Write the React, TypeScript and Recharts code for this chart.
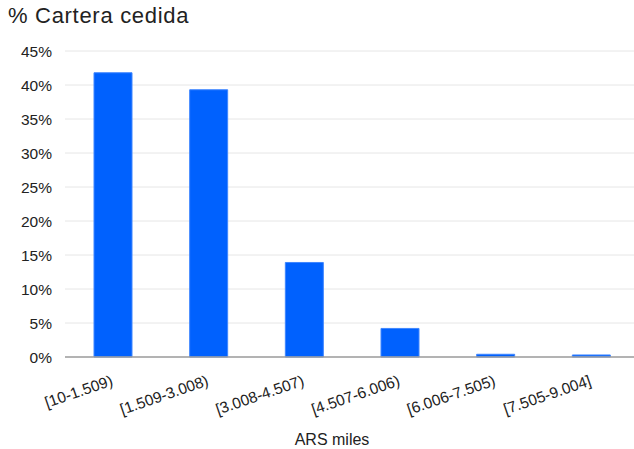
import React from 'react';
import { BarChart, Bar, XAxis, YAxis, CartesianGrid, Label } from 'recharts';

const categories = [
  '[10-1.509)',
  '[1.509-3.008)',
  '[3.008-4.507)',
  '[4.507-6.006)',
  '[6.006-7.505)',
  '[7.505-9.004]',
];
const carteraCedida = [41.8, 39.3, 13.9, 4.2, 0.4, 0.3];
const yTicks = [0, 5, 10, 15, 20, 25, 30, 35, 40, 45];

const data = categories.map((name, i) => ({ name, value: carteraCedida[i] }));

const FONT = 'Arial, "Liberation Sans", sans-serif';

const SlantedTick = (props: any) => {
  const { x, y, payload } = props;
  return (
    <g transform={`translate(${x + 1},${y + 28})`}>
      <text
        textAnchor="end"
        transform="rotate(-19)"
        fontSize={15.5}
        fontFamily={FONT}
        fill="#222"
      >
        {payload.value}
      </text>
    </g>
  );
};

export default function App() {
  return (
    <div
      style={{
        position: 'absolute',
        left: 0,
        top: 0,
        width: 634,
        height: 449,
        overflow: 'hidden',
        background: '#fff',
      }}
    >
      <div
        style={{
          position: 'absolute',
          left: 8,
          top: 2,
          fontFamily: FONT,
          fontSize: 22,
          letterSpacing: 0.7,
          color: '#222',
          lineHeight: '28px',
        }}
      >
        % Cartera cedida
      </div>
      <BarChart
        width={639}
        height={449}
        data={data}
        margin={{ top: 51, right: 0, bottom: 0, left: 0 }}
      >
        <CartesianGrid vertical={false} stroke="#e6e6e6" />
        <XAxis
          dataKey="name"
          interval={0}
          height={92}
          tickLine={false}
          tickSize={0}
          tickMargin={0}
          axisLine={{ stroke: '#9e9e9e', strokeWidth: 1.5 }}
          tick={<SlantedTick />}
        >
          <Label
            content={(p: any) => {
              const vb = p.viewBox || {};
              return (
                <text
                  x={vb.x + vb.width / 2 - 20}
                  y={vb.y + vb.height - 4}
                  textAnchor="middle"
                  fontSize={16}
                  fontFamily={FONT}
                  fill="#222"
                >
                  ARS miles
                </text>
              );
            }}
          />
        </XAxis>
        <YAxis
          width={65}
          domain={[0, 45]}
          ticks={yTicks}
          interval={0}
          axisLine={false}
          tickLine={false}
          tickSize={0}
          tickMargin={13}
          tickFormatter={(v: number) => `${v}%`}
          tick={{ fontSize: 15.5, fontFamily: FONT, fill: '#222' }}
        />
        <Bar
          dataKey="value"
          barSize={38}
          fill="#0061fe"
          stroke="#3f86ff"
          strokeWidth={1}
          isAnimationActive={false}
        />
      </BarChart>
    </div>
  );
}
